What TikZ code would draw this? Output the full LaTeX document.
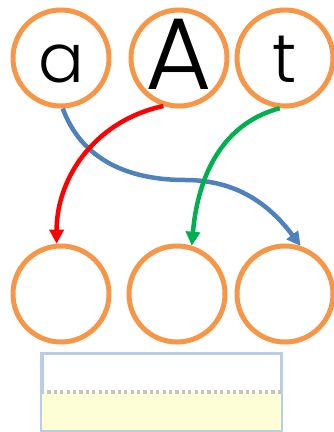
\documentclass[tikz,border=0pt]{standalone}
\usepackage{fontspec}
\setmainfont{Poppins}[UprightFont={* Light}]
\usepackage{xcolor}
\usetikzlibrary{arrows.meta, positioning}
\definecolor{ringorange}{HTML}{F79646}
\definecolor{linkblue}{HTML}{4F81BD}
\definecolor{linkred}{HTML}{FF0000}
\definecolor{linkgreen}{HTML}{00B050}
\definecolor{boxblue}{HTML}{B9CDE5}
\definecolor{boxyellow}{HTML}{FEFED6}
\definecolor{boxgray}{HTML}{C4C4C4}
\tikzset{
    ring/.style={circle, draw=ringorange, line width=5pt, minimum size=96pt, inner sep=0pt},
    small_letter/.style={font=\fontsize{68}{68}\selectfont, text height=50pt, text depth=0pt},
    big_letter/.style={font=\fontsize{102}{102}\selectfont, text height=63pt, text depth=0pt},
    link/.style={line width=4.5pt, -{Triangle[length=14pt,width=14pt]}},
    slot_line/.style={boxgray, line width=3.5pt, dash pattern=on 3.2pt off 3.2pt}
}
\begin{document}
\begin{tikzpicture}[x=1pt, y=1pt]
    \useasboundingbox (0,0) rectangle (334,432);
    % Top row
    \node[ring, small_letter] (a) at (61,374) {a};
    \node[ring, big_letter] (A) at (179,374) {A};
    \node[ring, small_letter] (t) at (285,374) {t};
    % Bottom row
    \node[ring] (slotA) at (61,138) {};
    \node[ring] (slotB) at (177,138) {};
    \node[ring] (slotC) at (285,138) {};
    % Box
    \node[draw=boxblue, line width=2.5pt, minimum width=238.5pt, minimum height=75.5pt] (box) at (161.5,40) {};
    \fill[boxyellow] (box.south west) rectangle (box.east);
    \draw[slot_line] (box.west) -- (box.east);
    \draw[boxblue, line width=2.5pt] (box.south west) rectangle (box.north east);
    % Links
    \coordinate (bend) at (185,252);
    \draw[link, linkblue] (a.-88) to[out=-70, in=180] (bend) to[out=0, in=127] (slotC.72);
    \draw[link, linkred] (A.252) to[out=192, in=90] (slotA.95);
    \draw[link, linkgreen] (t.264) to[out=195, in=85] (slotB.73);
\end{tikzpicture}
\end{document}
